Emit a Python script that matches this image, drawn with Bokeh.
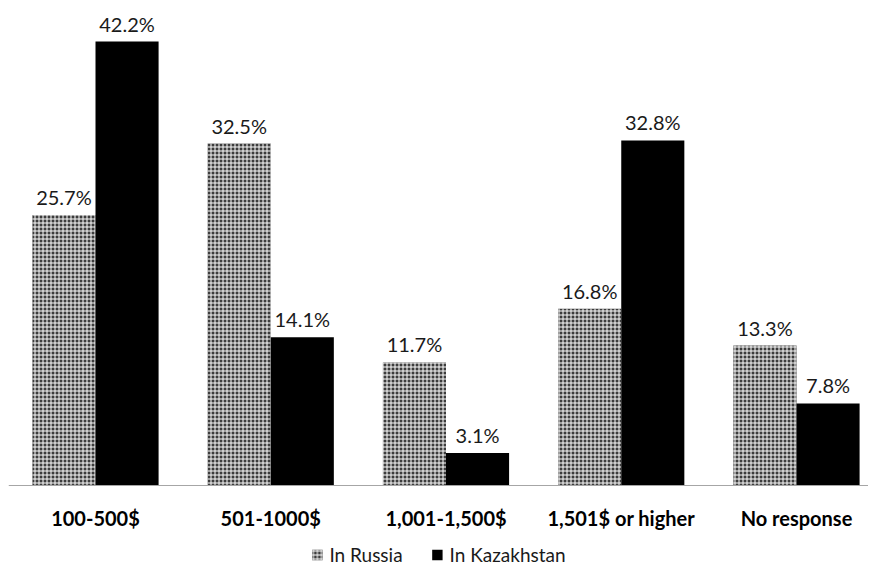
from bokeh.plotting import figure
from bokeh.models import ColumnDataSource, Range1d, LabelSet, Legend, LegendItem, Span
from bokeh.core.properties import value
from bokeh.embed import file_html
from bokeh.resources import INLINE

categories = ["100-500$", "501-1000$", "1,001-1,500$", "1,501$ or higher", "No response"]
russia = [25.7, 32.5, 11.7, 16.8, 13.3]
kazakhstan = [42.2, 14.1, 3.1, 32.8, 7.8]

FONT = "Lato"
OFF = 0.18
BAR_W = 0.36

pos = list(range(len(categories)))
src = ColumnDataSource(dict(
    x=pos,
    x_ru=[i - OFF for i in pos],
    x_kz=[i + OFF for i in pos],
    cat=categories,
    zero=[0] * len(categories),
    ru=russia,
    kz=kazakhstan,
    ru_lab=[f"{v:.1f}%" for v in russia],
    kz_lab=[f"{v:.1f}%" for v in kazakhstan],
))

ppu = 444 / 42.2          # pixels per percentage point
above, below = 477, 85    # frame pixels above / below the baseline
ppx = 175.25              # pixels per category
x_start = -(95 - 8) / ppx
x_end = x_start + 860 / ppx

p = figure(width=868, height=570, x_range=Range1d(x_start, x_end),
           y_range=Range1d(-below / ppu, above / ppu), output_backend="svg", toolbar_location=None,
           min_border_left=8, min_border_right=0, min_border_top=8, min_border_bottom=0)
p.outline_line_color = None
p.grid.visible = False
p.xaxis.visible = False
p.yaxis.visible = False

r_ru = p.vbar(x="x_ru", top="ru", bottom=0, width=BAR_W, source=src,
              fill_color="#3c3c3c", line_color=None,
              hatch_pattern="cross", hatch_scale=4, hatch_weight=1, hatch_color="#ffffff")
r_kz = p.vbar(x="x_kz", top="kz", bottom=0, width=BAR_W, source=src,
              fill_color="black", line_color=None)

p.add_layout(Span(location=0, dimension="width", line_color="#a6a6a6", line_width=1))

for col in ("ru", "kz"):
    lab = LabelSet(x="x_" + col, y=col, text=col + "_lab", source=src,
                   text_align="center", text_baseline="bottom", y_offset=6,
                   text_font=value(FONT), text_font_size="20px", text_color="#1a1a1a")
    p.add_layout(lab)

cat_lab = LabelSet(x="x", y="zero", text="cat", source=src, text_align="center",
                   text_baseline="middle", y_offset=-32, text_font=value(FONT),
                   text_font_style="bold", text_font_size="20px", text_color="black")
p.add_layout(cat_lab)

legend = Legend(items=[LegendItem(label="In Russia", renderers=[r_ru]),
                       LegendItem(label="In Kazakhstan", renderers=[r_kz])],
                orientation="horizontal", location="bottom",
                label_text_font=FONT, label_text_font_size="19px", label_text_color="#1a1a1a",
                glyph_width=13, glyph_height=13, spacing=28, padding=2, margin=4,
                label_standoff=6,
                border_line_color=None, background_fill_alpha=0)
p.add_layout(legend, "center")

open("out.html", "w").write(file_html(p, INLINE))
